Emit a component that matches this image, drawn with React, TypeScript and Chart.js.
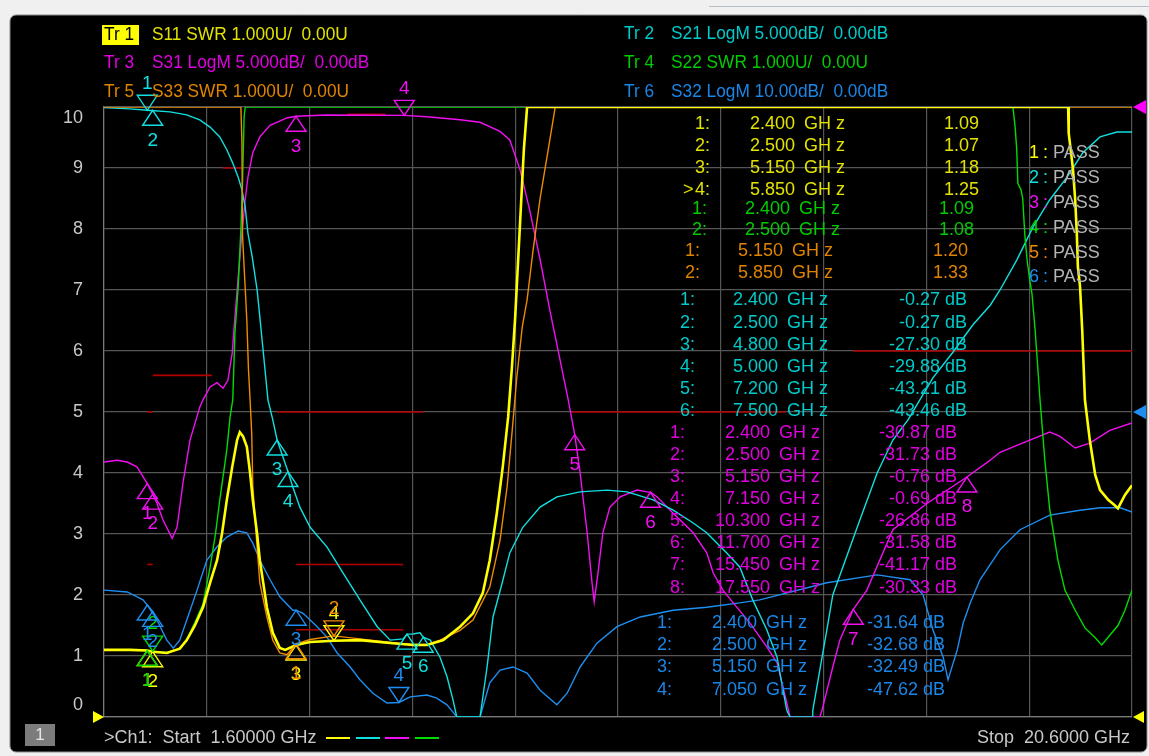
import { useEffect, useRef } from "react";
import { Chart, registerables } from "chart.js";
Chart.register(...registerables);

const W = 1149;
const H = 756;
const FONT = '"Liberation Sans", Arial, sans-serif';

// ---- axes ----
const xGridGHz = [1.6, 3.5, 5.4, 7.3, 9.2, 11.1, 13.0, 14.9, 16.8, 18.7, 20.6];
const yTickLabels = [0, 1, 2, 3, 4, 5, 6, 7, 8, 9, 10];

// ---- Tr1 S11 SWR ----
const s11Freq = [1.6, 2.08, 2.4, 2.5, 2.76, 3.0, 3.13, 3.28, 3.43, 3.56, 3.69, 3.78, 3.87, 3.97, 4.06, 4.11, 4.17, 4.24, 4.3, 4.35, 4.43, 4.48, 4.56, 4.61, 4.72, 4.85, 4.95, 5.15, 5.41, 5.85, 6.33, 6.94, 7.31, 7.57, 7.87, 8.18, 8.42, 8.6, 8.73, 8.86, 8.97, 9.07, 9.14, 9.2, 9.29, 9.36, 9.42, 19.42, 19.43, 19.49, 19.51, 19.55, 19.58, 19.6, 19.64, 19.68, 19.73, 19.82, 19.92, 20.01, 20.16, 20.28, 20.34, 20.47, 20.6];
const s11Swr = [1.10, 1.10, 1.09, 1.07, 1.05, 1.12, 1.26, 1.50, 1.80, 2.20, 2.57, 3.00, 3.56, 4.10, 4.54, 4.67, 4.60, 4.43, 4.00, 3.56, 3.00, 2.57, 2.10, 1.80, 1.38, 1.13, 1.10, 1.18, 1.23, 1.25, 1.26, 1.21, 1.18, 1.18, 1.26, 1.48, 1.70, 2.03, 2.57, 3.34, 4.10, 4.92, 5.74, 6.56, 8.10, 9.30, 10, 10, 9.57, 9.13, 8.97, 8.48, 7.93, 7.38, 7.05, 6.34, 5.20, 4.54, 3.97, 3.72, 3.56, 3.47, 3.42, 3.64, 3.80];

// ---- Tr5 S33 SWR ----
const s33Freq = [1.6, 4.13, 4.15, 4.16, 4.2, 4.24, 4.27, 4.3, 4.33, 4.35, 4.42, 4.48, 4.61, 4.72, 4.85, 4.98, 5.15, 5.41, 5.85, 6.33, 6.94, 7.31, 7.57, 7.81, 8.18, 8.42, 8.73, 8.92, 9.05, 9.14, 9.23, 9.33, 9.42, 9.53, 9.66, 9.81, 9.94, 20.6];
const s33Swr = [10, 10, 9.4, 7.9, 7.2, 6.5, 5.7, 5.2, 4.65, 3.8, 2.9, 2.2, 1.64, 1.26, 1.05, 1.02, 1.20, 1.27, 1.33, 1.28, 1.22, 1.19, 1.19, 1.26, 1.42, 1.59, 2.13, 2.9, 3.77, 4.65, 5.57, 6.39, 6.84, 7.65, 8.5, 9.3, 10, 10];

// ---- Tr4 S22 SWR ----
const s22Freq = [1.6, 2.08, 2.4, 2.5, 2.76, 3.0, 3.13, 3.28, 3.43, 3.56, 3.66, 3.74, 3.87, 3.93, 3.98, 4.02, 4.08, 4.13, 4.16, 4.19, 4.21, 18.4, 18.44, 18.47, 18.49, 18.55, 18.58, 18.62, 18.66, 18.71, 18.75, 18.81, 18.9, 18.99, 19.08, 19.23, 19.36, 19.55, 19.73, 19.92, 20.04, 20.19, 20.34, 20.47, 20.6];
const s22Swr = [1.10, 1.10, 1.09, 1.08, 1.06, 1.12, 1.27, 1.55, 1.85, 2.45, 3.0, 3.56, 4.38, 4.92, 5.2, 6.3, 7.05, 8.0, 8.75, 9.84, 10, 10, 9.67, 9.3, 8.75, 8.64, 8.5, 7.9, 7.5, 7.16, 6.95, 6.34, 5.2, 4.2, 3.4, 2.57, 2.08, 1.75, 1.46, 1.30, 1.18, 1.34, 1.5, 1.75, 2.08];

// ---- Tr2 S21 LogM (dB) ----
const s21Freq = [1.6, 2.08, 2.4, 2.82, 3.13, 3.37, 3.56, 3.74, 3.87, 3.98, 4.08, 4.15, 4.21, 4.26, 4.34, 4.43, 4.48, 4.54, 4.63, 4.72, 4.8, 5.0, 5.09, 5.22, 5.41, 5.72, 6.02, 6.33, 6.65, 6.89, 7.13, 7.2, 7.31, 7.44, 7.5, 7.63, 7.81, 7.94, 8.05, 8.12, 8.55, 8.68, 8.79, 8.96, 9.1, 9.34, 9.66, 9.97, 10.4, 10.9, 11.27, 11.75, 12.12, 12.49, 12.74, 13.11, 13.35, 13.59, 13.85, 14.04, 14.15, 14.22, 14.28, 14.69, 14.7, 14.83, 14.96, 15.07, 15.57, 15.89, 16.18, 16.46, 16.92, 17.29, 17.66, 17.98, 18.16, 18.47, 18.77, 19.08, 19.4, 19.69, 20.01, 20.32, 20.6];
const s21Db = [-0.05, -0.15, -0.27, -0.4, -0.65, -1.05, -1.65, -2.45, -3.5, -4.6, -5.75, -6.8, -8.2, -10.35, -12.3, -15.0, -17.2, -19.9, -24.0, -25.65, -27.3, -29.88, -31.15, -32.8, -34.45, -36.05, -38.2, -40.4, -42.6, -43.7, -43.6, -43.21, -43.2, -43.1, -43.46, -43.7, -45.1, -46.7, -48.6, -50, -50, -45.9, -41.8, -39.0, -36.55, -34.45, -32.8, -31.95, -31.55, -31.4, -31.55, -32.2, -33.05, -34.1, -34.9, -36.55, -37.7, -40.4, -42.85, -45.1, -47.8, -49.45, -50, -50, -49.45, -46.15, -42.85, -40.0, -33.85, -30.0, -27.3, -25.65, -22.2, -20.1, -17.85, -16.25, -15.0, -12.55, -9.85, -7.6, -5.75, -3.75, -2.45, -2.05, -2.05];

// ---- Tr3 S31 LogM (dB) ----
const s31Freq = [1.6, 1.84, 2.03, 2.21, 2.4, 2.5, 2.58, 2.69, 2.86, 2.95, 3.06, 3.19, 3.37, 3.43, 3.56, 3.69, 3.8, 3.89, 3.97, 4.02, 4.08, 4.15, 4.21, 4.26, 4.35, 4.48, 4.67, 4.98, 5.15, 5.72, 7.15, 7.57, 8.18, 8.55, 8.92, 9.1, 9.29, 9.47, 9.66, 9.84, 10.03, 10.18, 10.3, 10.4, 10.53, 10.62, 10.66, 10.73, 10.82, 10.95, 11.14, 11.45, 11.64, 11.7, 11.82, 12.12, 12.49, 12.74, 12.86, 13.04, 13.23, 13.54, 13.85, 14.04, 14.15, 14.22, 14.28, 14.83, 14.87, 15.07, 15.2, 15.45, 15.7, 16.18, 16.81, 17.55, 17.98, 18.16, 18.71, 19.08, 19.27, 19.55, 19.82, 20.19, 20.6];
const s31Db = [-29.1, -28.95, -29.1, -29.5, -30.87, -31.73, -32.5, -33.85, -35.35, -34.45, -30.8, -27.3, -24.6, -24.0, -22.95, -22.6, -23.05, -22.4, -20.15, -17.2, -13.95, -10.35, -7.6, -5.75, -3.75, -2.45, -1.5, -0.9, -0.76, -0.65, -0.69, -0.8, -1.05, -1.25, -2.0, -2.7, -5.15, -8.5, -12.5, -16.65, -20.75, -24.0, -26.86, -30.0, -34.9, -39.0, -40.55, -38.2, -34.9, -32.8, -31.95, -31.4, -31.55, -31.58, -31.95, -33.3, -34.9, -36.55, -38.2, -39.6, -40.65, -42.3, -44.25, -45.55, -47.55, -48.85, -50, -50, -49.45, -45.9, -43.7, -41.17, -39.6, -34.65, -32.5, -30.33, -28.95, -28.3, -27.3, -26.65, -27.0, -27.95, -27.55, -26.5, -25.9];

// ---- Tr6 S32 LogM (dB) ----
const s32Freq = [1.6, 2.03, 2.32, 2.4, 2.5, 2.64, 2.76, 2.88, 3.0, 3.13, 3.32, 3.5, 3.69, 3.87, 4.08, 4.24, 4.35, 4.48, 4.67, 4.85, 5.09, 5.15, 5.28, 5.54, 5.72, 5.91, 6.15, 6.33, 6.57, 6.83, 7.05, 7.26, 7.57, 7.75, 7.94, 8.05, 8.12, 8.55, 8.73, 8.92, 9.16, 9.42, 9.66, 9.97, 10.16, 10.4, 10.71, 11.08, 11.51, 12.12, 12.74, 13.35, 13.72, 14.96, 15.89, 16.5, 16.74, 16.92, 17.11, 17.2, 17.37, 17.48, 17.61, 17.79, 18.16, 18.53, 19.08, 19.64, 20.01, 20.38, 20.6];
const s32Db = [-29.2, -29.5, -30.8, -31.64, -32.68, -35.2, -37.4, -38.7, -37.4, -34.1, -29.2, -24.3, -22.1, -20.5, -19.5, -19.8, -21.5, -24.3, -27.5, -30.3, -32.5, -32.49, -33.0, -35.2, -36.9, -39.5, -41.8, -43.9, -46.1, -47.7, -47.62, -46.7, -46.4, -46.9, -48.0, -49.2, -50, -50, -44.4, -42.3, -41.8, -42.8, -45.6, -48.0, -46.1, -41.8, -37.9, -35.2, -33.6, -32.5, -32.0, -31.3, -30.8, -28.0, -26.7, -27.5, -30.0, -35.7, -40.2, -43.9, -39.0, -34.6, -31.3, -27.5, -22.6, -19.3, -16.9, -16.1, -15.7, -15.7, -16.4];

// ---- markers ----
const s11MkFreq = [2.4, 2.5, 5.15, 5.85];
const s11MkVal = [1.09, 1.07, 1.18, 1.25];
const s22MkFreq = [2.4, 2.5];
const s22MkVal = [1.09, 1.08];
const s33MkFreq = [5.15, 5.85];
const s33MkVal = [1.20, 1.33];
const s21MkFreq = [2.4, 2.5, 4.8, 5.0, 7.2, 7.5];
const s21MkVal = [-0.27, -0.27, -27.30, -29.88, -43.21, -43.46];
const s31MkFreq = [2.4, 2.5, 5.15, 7.15, 10.3, 11.7, 15.45, 17.55];
const s31MkVal = [-30.87, -31.73, -0.76, -0.69, -26.86, -31.58, -41.17, -30.33];
const s32MkFreq = [2.4, 2.5, 5.15, 7.05];
const s32MkVal = [-31.64, -32.68, -32.49, -47.62];

// ---- limit lines (start GHz, stop GHz, grid division) ----
const limitStart = [2.5, 3.8, 2.4, 2.4, 4.8, 5.15, 5.15, 10.25, 15.45, 6.1];
const limitStop = [3.6, 4.17, 2.5, 2.5, 7.5, 7.13, 7.13, 14.2, 20.6, 6.8];
const limitDiv = [5.6, 9.0, 5.0, 2.5, 5.0, 2.5, 1.43, 5.0, 6.0, 9.88];

const passLabels = ["1", "2", "3", "4", "5", "6"];

type Trace = {
  tr: string; param: string; fmt: string;
  freq: number[]; vals: number[];
  perDiv: number; refPos: number; unit: string;
  line: string; text: string; width: number;
  mkF: number[]; mkV: number[]; active: number;
  rows: number[]; lblX: number; numX: number; valX: number;
};

const traces: Trace[] = [
  { tr: "1", param: "S11 SWR 1.000U/  0.00U", fmt: "SWR", freq: s11Freq, vals: s11Swr, perDiv: 1, refPos: 0, unit: "",
    line: "#ffff00", text: "#e2e200", width: 2.6, mkF: s11MkFreq, mkV: s11MkVal, active: 3,
    rows: [124, 146, 168, 190], lblX: 710, numX: 795, valX: 979 },
  { tr: "5", param: "S33 SWR 1.000U/  0.00U", fmt: "SWR", freq: s33Freq, vals: s33Swr, perDiv: 1, refPos: 0, unit: "",
    line: "#f08a00", text: "#e08400", width: 1.4, mkF: s33MkFreq, mkV: s33MkVal, active: 1,
    rows: [251, 273], lblX: 700, numX: 783, valX: 968 },
  { tr: "4", param: "S22 SWR 1.000U/  0.00U", fmt: "SWR", freq: s22Freq, vals: s22Swr, perDiv: 1, refPos: 0, unit: "",
    line: "#00dc00", text: "#00cc00", width: 1.4, mkF: s22MkFreq, mkV: s22MkVal, active: 1,
    rows: [209, 230], lblX: 707, numX: 790, valX: 974 },
  { tr: "2", param: "S21 LogM 5.000dB/  0.00dB", fmt: "LogM", freq: s21Freq, vals: s21Db, perDiv: 5, refPos: 10, unit: " dB",
    line: "#10e0e0", text: "#00caca", width: 1.4, mkF: s21MkFreq, mkV: s21MkVal, active: 0,
    rows: [300, 323, 345, 367, 389, 411], lblX: 695, numX: 778, valX: 967 },
  { tr: "3", param: "S31 LogM 5.000dB/  0.00dB", fmt: "LogM", freq: s31Freq, vals: s31Db, perDiv: 5, refPos: 10, unit: " dB",
    line: "#f010f0", text: "#e000e0", width: 1.4, mkF: s31MkFreq, mkV: s31MkVal, active: 3,
    rows: [433, 455, 477, 499, 521, 543, 565, 588], lblX: 685, numX: 770, valX: 957 },
  { tr: "6", param: "S32 LogM 10.00dB/  0.00dB", fmt: "LogM", freq: s32Freq, vals: s32Db, perDiv: 10, refPos: 5, unit: " dB",
    line: "#1e8ef0", text: "#1a86e6", width: 1.4, mkF: s32MkFreq, mkV: s32MkVal, active: 3,
    rows: [623, 645, 667, 690], lblX: 672, numX: 757, valX: 945 },
];

const toDiv = (t: Trace, v: number) => Math.max(0, Math.min(10, t.refPos + v / t.perDiv));
const byTr = (n: string) => traces.find((t) => t.tr === n) as Trace;

function txt(ctx: CanvasRenderingContext2D, s: string, x: number, y: number, color: string, size: number, align: CanvasTextAlign = "left", sx = 1) {
  ctx.save();
  ctx.font = `${size}px ${FONT}`;
  ctx.fillStyle = color;
  ctx.textBaseline = "middle";
  ctx.textAlign = align;
  ctx.translate(x, y);
  ctx.scale(sx, 1);
  ctx.fillText(s, 0, 0);
  ctx.restore();
}

const overlay = {
  id: "vnaOverlay",
  beforeDraw(chart: any) {
    const ctx: CanvasRenderingContext2D = chart.ctx;
    ctx.save();
    ctx.fillStyle = "#f0f0f0";
    ctx.fillRect(0, 0, W, H);
    ctx.strokeStyle = "#b8bec6";
    ctx.lineWidth = 1;
    ctx.beginPath();
    ctx.moveTo(709, 6.5);
    ctx.lineTo(W, 6.5);
    ctx.stroke();
    ctx.beginPath();
    (ctx as any).roundRect(10, 15, 1137, 737, 6);
    ctx.fillStyle = "#000000";
    ctx.fill();
    ctx.strokeStyle = "#8c8c8c";
    ctx.stroke();
    ctx.restore();
  },
  afterDatasetsDraw(chart: any) {
    const ctx: CanvasRenderingContext2D = chart.ctx;
    const xs = chart.scales.x;
    const ys = chart.scales.y;
    ctx.save();
    for (const t of traces) {
      t.mkF.forEach((f, i) => {
        const px = xs.getPixelForValue(f);
        const py = ys.getPixelForValue(toDiv(t, t.mkV[i]));
        ctx.strokeStyle = t.line;
        ctx.lineWidth = 1.4;
        ctx.beginPath();
        if (i === t.active) {
          ctx.moveTo(px - 10, py - 15);
          ctx.lineTo(px + 10, py - 15);
          ctx.lineTo(px, py);
        } else {
          ctx.moveTo(px, py);
          ctx.lineTo(px + 10, py + 15);
          ctx.lineTo(px - 10, py + 15);
        }
        ctx.closePath();
        ctx.stroke();
        txt(ctx, String(i + 1), px, i === t.active ? py - 27 : py + 30, t.line, 19, "center");
      });
    }
    ctx.restore();
  },
  afterDraw(chart: any) {
    const ctx: CanvasRenderingContext2D = chart.ctx;
    const xs = chart.scales.x;
    const ys = chart.scales.y;
    const area = chart.chartArea;

    // y labels
    for (const v of yTickLabels) {
      let py = ys.getPixelForValue(v);
      if (v === 10) py += 11;
      if (v === 0) py -= 12;
      txt(ctx, String(v), 83, py, "#c8c8c8", 18, "right");
    }

    // reference arrows
    const tri = (pts: number[][], color: string) => {
      ctx.beginPath();
      ctx.moveTo(pts[0][0], pts[0][1]);
      ctx.lineTo(pts[1][0], pts[1][1]);
      ctx.lineTo(pts[2][0], pts[2][1]);
      ctx.closePath();
      ctx.fillStyle = color;
      ctx.fill();
    };
    const r0 = ys.getPixelForValue(byTr("1").refPos);
    tri([[area.left - 11, r0 - 6], [area.left - 11, r0 + 6], [area.left, r0]], "#ffff00");
    tri([[area.right + 12, r0 - 6], [area.right + 12, r0 + 6], [area.right + 1, r0]], "#ffff00");
    const r3 = ys.getPixelForValue(byTr("3").refPos);
    tri([[area.right + 14, r3 - 7], [area.right + 14, r3 + 7], [area.right + 1, r3]], "#ff00ff");
    const r6 = ys.getPixelForValue(byTr("6").refPos);
    tri([[area.right + 14, r6 - 7], [area.right + 14, r6 + 7], [area.right + 1, r6]], "#1e8ef0");

    // header
    ctx.fillStyle = "#ffff00";
    ctx.fillRect(102, 25, 37, 20);
    txt(ctx, "Tr 1", 104, 35, "#000000", 19, "left", 0.91);
    txt(ctx, byTr("1").param, 152, 35, byTr("1").text, 19, "left", 0.91);
    const leftRows: [string, number][] = [["3", 63], ["5", 92]];
    for (const [n, y] of leftRows) {
      const t = byTr(n);
      txt(ctx, "Tr " + n, 104, y, t.text, 19, "left", 0.91);
      txt(ctx, t.param, 152, y, t.text, 19, "left", 0.91);
    }
    const rightRows: [string, number][] = [["2", 34], ["4", 63], ["6", 92]];
    for (const [n, y] of rightRows) {
      const t = byTr(n);
      txt(ctx, "Tr " + n, 624, y, t.text, 19, "left", 0.91);
      txt(ctx, t.param, 671, y, t.text, 19, "left", 0.91);
    }

    // marker readouts
    for (const t of traces) {
      t.mkF.forEach((f, i) => {
        const y = t.rows[i];
        txt(ctx, `${i + 1}:`, t.lblX, y, t.text, 18, "right");
        if (t.tr === "1" && i === t.active) txt(ctx, ">", 683, y, t.text, 18, "left");
        txt(ctx, f.toFixed(3), t.numX, y, t.text, 18, "right");
        txt(ctx, "GH z", t.numX + 9, y, t.text, 18, "left");
        txt(ctx, t.mkV[i].toFixed(2) + t.unit, t.valX, y, t.text, 18, "right");
      });
    }

    // limit test results
    const passRows = [153, 178, 203, 228, 253, 277];
    passLabels.forEach((n, i) => {
      const t = byTr(n);
      txt(ctx, n, 1029, passRows[i], t.line, 18, "left");
      txt(ctx, ":", 1043, passRows[i], t.line, 18, "left");
      txt(ctx, "PASS", 1053, passRows[i], "#b4b4b4", 18, "left");
    });

    // footer
    ctx.fillStyle = "#7c7c7c";
    ctx.fillRect(25, 724, 30, 22);
    txt(ctx, "1", 40, 735, "#e6e6e6", 17, "center");
    txt(ctx, ">Ch1:  Start  1.60000 GHz", 104, 738, "#c8c8c8", 18, "left");
    const dashes: [string, number][] = [["1", 326], ["2", 356], ["3", 385], ["4", 415]];
    ctx.lineWidth = 2;
    for (const [n, x] of dashes) {
      ctx.strokeStyle = byTr(n).line;
      ctx.beginPath();
      ctx.moveTo(x, 738);
      ctx.lineTo(x + 24, 738);
      ctx.stroke();
    }
    txt(ctx, "Stop  20.6000 GHz", 1130, 738, "#c8c8c8", 18, "right");
  },
};

export default function App() {
  const ref = useRef<HTMLCanvasElement | null>(null);
  useEffect(() => {
    if (!ref.current) return;
    const limitSets = limitStart.map((s, i) => ({
      data: [{ x: s, y: limitDiv[i] }, { x: limitStop[i], y: limitDiv[i] }],
      borderColor: "#b40000",
      borderWidth: 1.6,
      pointRadius: 0,
      order: 10,
    }));
    const traceSets = traces.map((t, k) => ({
      data: t.freq.map((f, i) => ({ x: f, y: toDiv(t, t.vals[i]) })),
      borderColor: t.line,
      borderWidth: t.width,
      pointRadius: 0,
      tension: 0,
      order: k,
    }));
    const chart = new Chart(ref.current, {
      type: "line",
      data: { datasets: [...traceSets, ...limitSets] as any },
      options: {
        animation: false,
        responsive: false,
        events: [],
        layout: { padding: { left: 104, top: 107, right: 17, bottom: 39 } },
        plugins: { legend: { display: false }, tooltip: { enabled: false } },
        scales: {
          x: {
            type: "linear", min: 1.6, max: 20.6,
            afterBuildTicks: (s: any) => { s.ticks = xGridGHz.map((v) => ({ value: v })); },
            ticks: { display: false },
            grid: { color: "#565656", lineWidth: 1.2, drawTicks: false },
            border: { color: "#7a7a7a", width: 1.2 },
          },
          y: {
            type: "linear", min: 0, max: 10,
            afterBuildTicks: (s: any) => { s.ticks = yTickLabels.map((v) => ({ value: v })); },
            ticks: { display: false },
            grid: { color: "#565656", lineWidth: 1.2, drawTicks: false },
            border: { color: "#7a7a7a", width: 1.2 },
          },
        },
      } as any,
      plugins: [overlay as any],
    });
    return () => chart.destroy();
  }, []);
  return (
    <div style={{ position: "fixed", left: 0, top: 0, width: W, height: H, background: "#f0f0f0" }}>
      <canvas ref={ref} width={W} height={H} style={{ display: "block" }} />
    </div>
  );
}
